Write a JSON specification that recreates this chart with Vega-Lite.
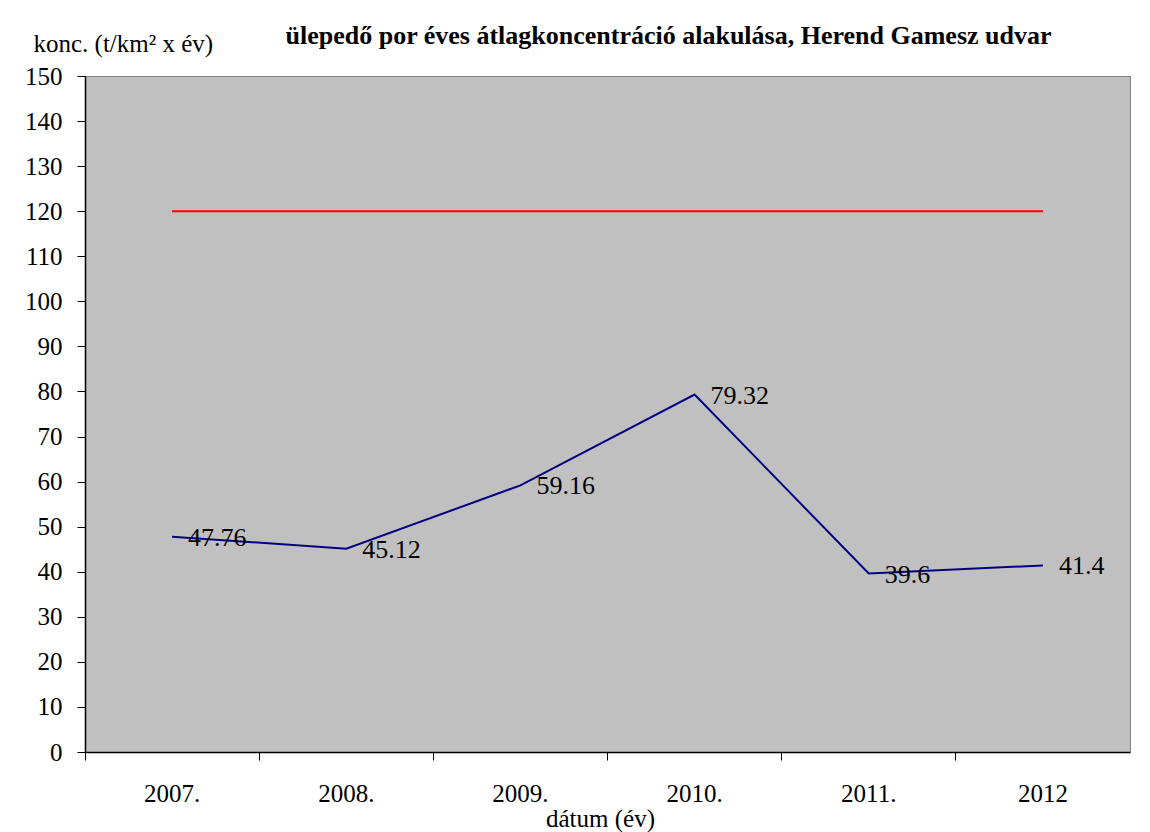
{
  "$schema": "https://vega.github.io/schema/vega-lite/v6.json",
  "width": 1045,
  "height": 676,
  "autosize": {"type": "none"},
  "padding": {"left": 85, "top": 76, "right": 20, "bottom": 80},
  "background": "white",
  "title": {
    "text": "ülepedő por éves átlagkoncentráció alakulása, Herend Gamesz udvar",
    "font": "Liberation Serif, Times New Roman, serif",
    "fontSize": 26,
    "fontWeight": "bold",
    "color": "black",
    "anchor": "middle",
    "frame": "group",
    "dx": 61,
    "offset": -18
  },
  "config": {
    "view": {"fill": "#C0C0C0", "stroke": "#808080", "strokeWidth": 1},
    "axis": {
      "labelFont": "Liberation Serif, Times New Roman, serif",
      "titleFont": "Liberation Serif, Times New Roman, serif",
      "labelFontSize": 25,
      "titleFontSize": 25,
      "titleFontWeight": "normal",
      "labelColor": "black",
      "titleColor": "black",
      "domainColor": "black",
      "tickColor": "black",
      "domainWidth": 1.5,
      "tickSize": 8,
      "grid": false
    },
    "axisY": {"labelPadding": 15}
  },
  "data": {
    "values": [
      {"year": "2007.", "value": 47.76, "limit": 120},
      {"year": "2008.", "value": 45.12, "limit": 120},
      {"year": "2009.", "value": 59.16, "limit": 120},
      {"year": "2010.", "value": 79.32, "limit": 120},
      {"year": "2011.", "value": 39.6, "limit": 120},
      {"year": "2012", "value": 41.4, "limit": 120}
    ]
  },
  "encoding": {
    "x": {
      "field": "year",
      "type": "ordinal",
      "sort": null,
      "scale": {"type": "band", "paddingInner": 0, "paddingOuter": 0},
      "axis": {
        "title": "dátum (év)",
        "labelAngle": 0,
        "bandPosition": 0,
        "labelPadding": 21,
        "titleX": 515,
        "titleY": 66,
        "titleAlign": "center",
        "titleBaseline": "middle",
        "titleAnchor": null
      }
    }
  },
  "layer": [
    {
      "mark": {"type": "line", "color": "#FF0000", "strokeWidth": 2},
      "encoding": {
        "y": {
          "field": "limit",
          "type": "quantitative",
          "scale": {"domain": [0, 150], "nice": false},
          "axis": {
            "title": "konc. (t/km² x év)",
            "values": [0, 10, 20, 30, 40, 50, 60, 70, 80, 90, 100, 110, 120, 130, 140, 150],
            "labelPadding": 15,
            "titleAngle": 0,
            "titleAlign": "left",
            "titleBaseline": "middle",
            "titleX": -52,
            "titleY": -33
          }
        }
      }
    },
    {
      "mark": {"type": "line", "color": "#000080", "strokeWidth": 2},
      "encoding": {
        "y": {"field": "value", "type": "quantitative"}
      }
    },
    {
      "mark": {
        "type": "text",
        "align": "left",
        "baseline": "middle",
        "dx": 16,
        "dy": 1,
        "font": "Liberation Serif, Times New Roman, serif",
        "fontSize": 26,
        "color": "black"
      },
      "encoding": {
        "y": {"field": "value", "type": "quantitative"},
        "text": {"field": "value", "type": "quantitative", "format": ".4~f"}
      }
    }
  ]
}
